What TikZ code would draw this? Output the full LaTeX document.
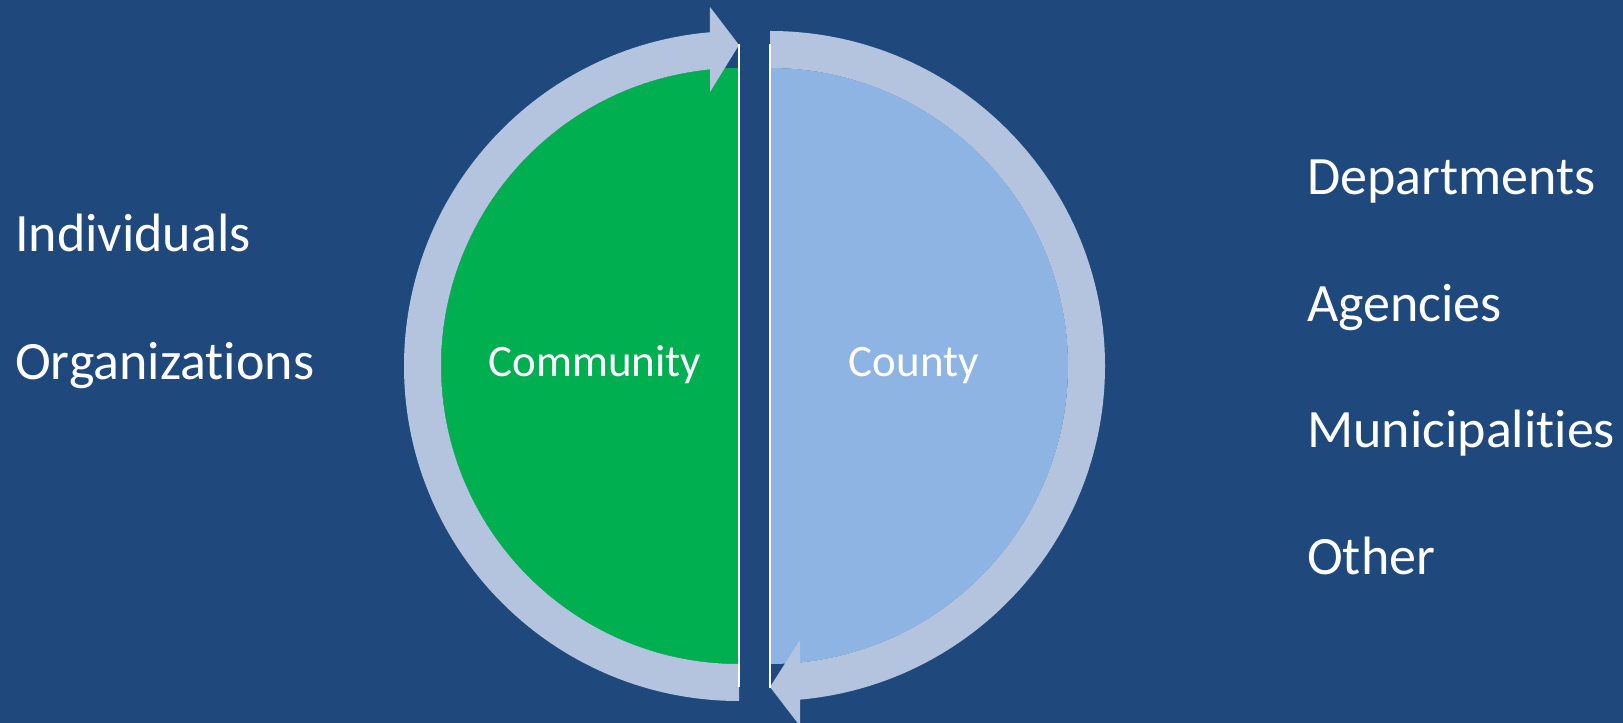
\documentclass[tikz,border=0pt]{standalone}
\usepackage{fontspec}
\setmainfont[Ligatures={NoCommon}]{Carlito}
\usetikzlibrary{calc}
\definecolor{bg}{RGB}{31,73,125}
\definecolor{ringc}{RGB}{180,196,222}
\definecolor{greenc}{RGB}{0,176,80}
\definecolor{bluec}{RGB}{142,180,227}
\begin{document}
\begin{tikzpicture}[x=1pt,y=1pt,
  sidetext/.style={text=white,anchor=base west,inner sep=0pt,font=\fontsize{54}{60}\selectfont},
  midtext/.style={text=white,anchor=base,inner sep=0pt,font=\fontsize{45}{50}\selectfont},
  sepline/.style={draw=white,line width=2pt}]
\useasboundingbox (0,0) rectangle (1623,723);
\clip (0,0) rectangle (1623,723);
\fill[bg] (0,0) rectangle (1623,723);
% half disks
\fill[greenc] (739,655) arc[start angle=90,end angle=270,radius=298] -- cycle;
\fill[bluec] (770,655) arc[start angle=90,end angle=-90,radius=298] -- cycle;
% left ring with arrow
\fill[ringc] (739,22) arc[start angle=270,end angle=95,radius=335]
  -- (710,716) -- (739,678) -- (710,631)
  -- ($(739,357)+(95.58:298)$) arc[start angle=95.58,end angle=270,radius=298] -- cycle;
% right ring with arrow
\fill[ringc] (770,692) arc[start angle=90,end angle=-84.86,radius=335]
  -- (800,-3) -- (770,36) -- (800,83)
  -- ($(770,357)+(-84.22:298)$) arc[start angle=-84.22,end angle=90,radius=298] -- cycle;
% separator lines
\coordinate (lt) at (739,679);
\coordinate (lb) at (739,36);
\coordinate (rt) at (770,679);
\coordinate (rb) at (770,35);
\draw[sepline] (lt) -- (lb);
\draw[sepline] (rt) -- (rb);
% labels
\node[midtext] (community) at (595,346) {Community};
\node[midtext] (county) at (914,346) {County};
\node[sidetext] (ind) at (15,471) {Individuals};
\node[sidetext] (org) at (15,343) {Organizations};
\node[sidetext] (dep) at (1307,528) {Departments};
\node[sidetext] (age) at (1307,401) {Agencies};
\node[sidetext] (mun) at (1307,275) {Municipalities};
\node[sidetext] (oth) at (1307,148) {Other};
\end{tikzpicture}
\end{document}
